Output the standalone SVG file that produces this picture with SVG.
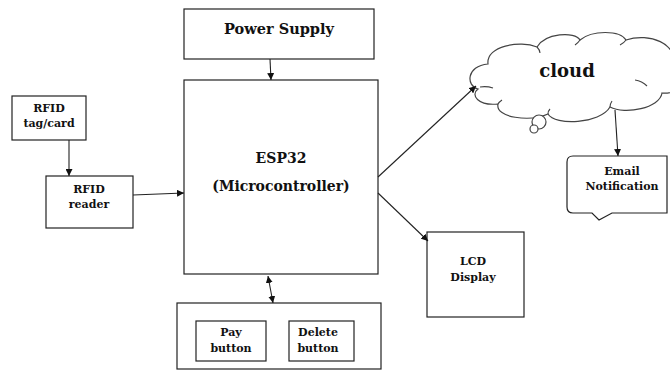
<svg xmlns="http://www.w3.org/2000/svg" width="670" height="370" viewBox="0 0 670 370">
<style>
.box{fill:#fff;stroke:#222;stroke-width:1.2}
.t{font-family:"DejaVu Serif","Liberation Serif",serif;font-weight:bold;fill:#111;text-anchor:middle}
.s{font-size:11px}
.c{fill:none;stroke:#222;stroke-width:1.1}
.cl{fill:#fff;stroke:#444;stroke-width:1.2}
.in{fill:none;stroke:#444;stroke-width:1.1}
</style>
<defs>
<marker id="ah" viewBox="0 0 10 10" refX="10" refY="5" markerWidth="7" markerHeight="7" markerUnits="userSpaceOnUse" orient="auto-start-reverse">
<path d="M0,0 L10,5 L0,10 Z" fill="#111"/>
</marker>
</defs>
<rect width="670" height="370" fill="#fff"/>

<g id="power-supply">
<rect class="box" x="184" y="9" width="190" height="50"/>
<text class="t" x="279" y="34" font-size="14.5">Power Supply</text>
</g>

<g id="rfid-tag">
<rect class="box" x="12" y="96" width="74" height="44"/>
<text class="t s" x="49" y="112">RFID</text>
<text class="t s" x="49" y="127">tag/card</text>
</g>

<g id="rfid-reader">
<rect class="box" x="46" y="176" width="87" height="52"/>
<text class="t s" x="89" y="193">RFID</text>
<text class="t s" x="89" y="208">reader</text>
</g>

<g id="esp32">
<rect class="box" x="184" y="80" width="194" height="194"/>
<text class="t" x="281" y="163" font-size="14">ESP32</text>
<text class="t" x="281" y="191" font-size="14">(Microcontroller)</text>
</g>

<g id="cloud">
<path class="cl" d="M478,89 C466,86 466,66 488,64 C486,46 520,40 537,47 C545,33 575,31 580,40 C592,30 620,30 626,40 C650,32 678,45 672,62 C690,70 685,95 662,93 C660,108 625,115 610,107 C600,124 555,126 548,114 C530,122 495,118 498,104 C478,106 470,95 478,89 Z"/>
<path class="in" d="M480,87 Q487,86 493,88 M537,47 Q540,50 540,53 M580,40 Q578,43 575,45 M626,40 Q624,43 620,45 M635,80 Q642,81 647,86 M610,107 Q610,104 612,101 M548,114 Q548,111 550,109 M498,104 Q499,102 502,100"/>
<circle class="cl" cx="539" cy="122" r="7"/>
<circle class="cl" cx="534" cy="129" r="4"/>
<text class="t" x="567" y="77" font-size="18">cloud</text>
</g>

<g id="email">
<path class="box" d="M573,156 H667 V213 H612 L599,220 L592,213 H573 Q567,213 567,207 V162 Q567,156 573,156 Z"/>
<text class="t s" x="622" y="175">Email</text>
<text class="t s" x="622" y="190">Notification</text>
</g>

<g id="lcd">
<rect class="box" x="427" y="232" width="97" height="85"/>
<text class="t s" x="473" y="265">LCD</text>
<text class="t s" x="473" y="281">Display</text>
</g>

<g id="buttons">
<rect class="box" x="177" y="303" width="204" height="66"/>
<g id="pay-button">
<rect class="box" x="196" y="321" width="70" height="40"/>
<text class="t s" x="231" y="336">Pay</text>
<text class="t s" x="231" y="352">button</text>
</g>
<g id="delete-button">
<rect class="box" x="289" y="321" width="65" height="40"/>
<text class="t s" x="318" y="336">Delete</text>
<text class="t s" x="318" y="352">button</text>
</g>
</g>

<g id="connectors">
<line class="c" x1="69" y1="140" x2="69" y2="176" marker-end="url(#ah)"/>
<line class="c" x1="133" y1="195" x2="184" y2="193" marker-end="url(#ah)"/>
<line class="c" x1="270" y1="59" x2="271" y2="80" marker-end="url(#ah)"/>
<line class="c" x1="378" y1="177" x2="476" y2="86" marker-end="url(#ah)"/>
<line class="c" x1="378" y1="193" x2="428" y2="241" marker-end="url(#ah)"/>
<line class="c" x1="615" y1="110" x2="618" y2="156" marker-end="url(#ah)"/>
<line class="c" x1="268" y1="276" x2="273" y2="303" marker-start="url(#ah)" marker-end="url(#ah)"/>
</g>
</svg>
